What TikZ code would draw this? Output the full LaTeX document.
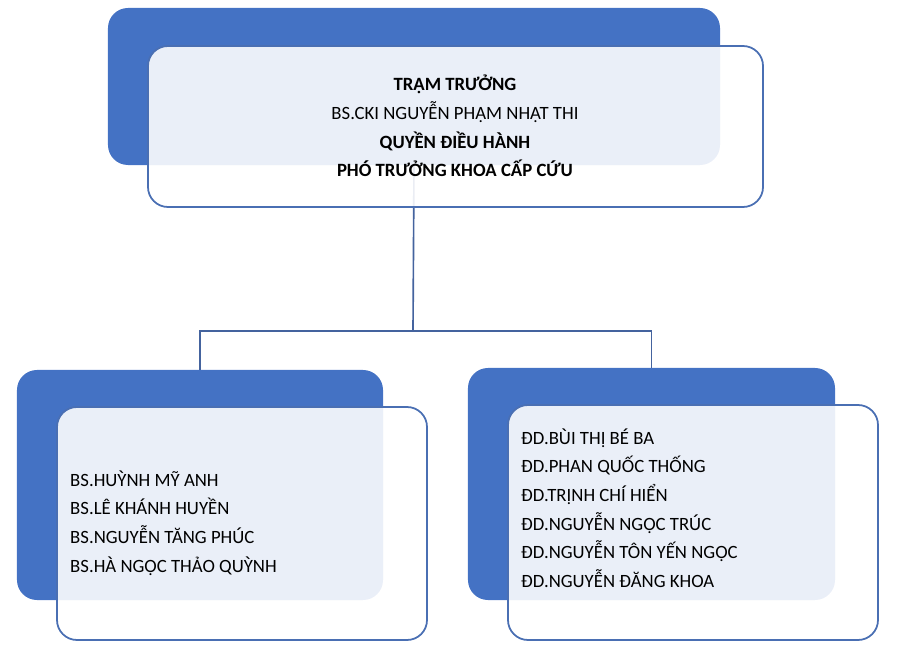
\documentclass[tikz,border=0pt]{standalone}
\usepackage{fontspec}
\setmainfont{Carlito}
\definecolor{boxblue}{HTML}{4472C4}
\definecolor{edgeblue}{HTML}{4A6FB3}
\definecolor{linkblue}{HTML}{44639E}
\begin{document}
\begin{tikzpicture}[x=0.03cm,y=-0.03cm,
  backbox/.style={fill=boxblue,rounded corners=0.6cm,inner sep=0pt},
  frontbox/.style={draw=edgeblue,line width=1.5pt,fill=white,fill opacity=0.89,rounded corners=0.6cm,inner sep=0pt},
  link/.style={draw=linkblue,line width=1.4pt},
  names/.style={inner sep=0pt,font=\fontsize{16}{24.4}\selectfont,align=left}]
\useasboundingbox (0,0) rectangle (917,654);
% blue back plates
\node[backbox,minimum width=18.36cm,minimum height=4.71cm] (topback) at (414,86.5) {};
\node[backbox,minimum width=10.98cm,minimum height=6.9cm] (leftback) at (200,485) {};
\node[backbox,minimum width=11.01cm,minimum height=6.96cm] (rightback) at (651.5,484) {};
% connectors
\coordinate (hub) at (413,331);
\draw[link] (topback.south) -- (hub);
\draw[link] (hub) -| (leftback.north);
\draw[link] (hub) -| (rightback.north);
% front boxes
\node[frontbox,minimum width=18.45cm,minimum height=4.83cm] (topfront) at (455.5,126.5) {};
\node[frontbox,minimum width=11.1cm,minimum height=6.99cm] (leftfront) at (242,523.5) {};
\node[frontbox,minimum width=11.1cm,minimum height=7.05cm] (rightfront) at (693,522.5) {};
% texts
\node[names,align=center] (chief) at (455,126) {\textbf{TRẠM TRƯỞNG}\\BS.CKI NGUYỄN PHẠM NHẬT THI\\\textbf{QUYỀN ĐIỀU HÀNH}\\\textbf{PHÓ TRƯỞNG KHOA CẤP CỨU}};
\node[names,anchor=west] (doctors) at (70,523) {BS.HUỲNH MỸ ANH\\BS.LÊ KHÁNH HUYỀN\\BS.NGUYỄN TĂNG PHÚC\\BS.HÀ NGỌC THẢO QUỲNH};
\node[names,anchor=west] (nurses) at (521,508) {ĐD.BÙI THỊ BÉ BA\\ĐD.PHAN QUỐC THỐNG\\ĐD.TRỊNH CHÍ HIỂN\\ĐD.NGUYỄN NGỌC TRÚC\\ĐD.NGUYỄN TÔN YẾN NGỌC\\ĐD.NGUYỄN ĐĂNG KHOA};
\end{tikzpicture}
\end{document}
